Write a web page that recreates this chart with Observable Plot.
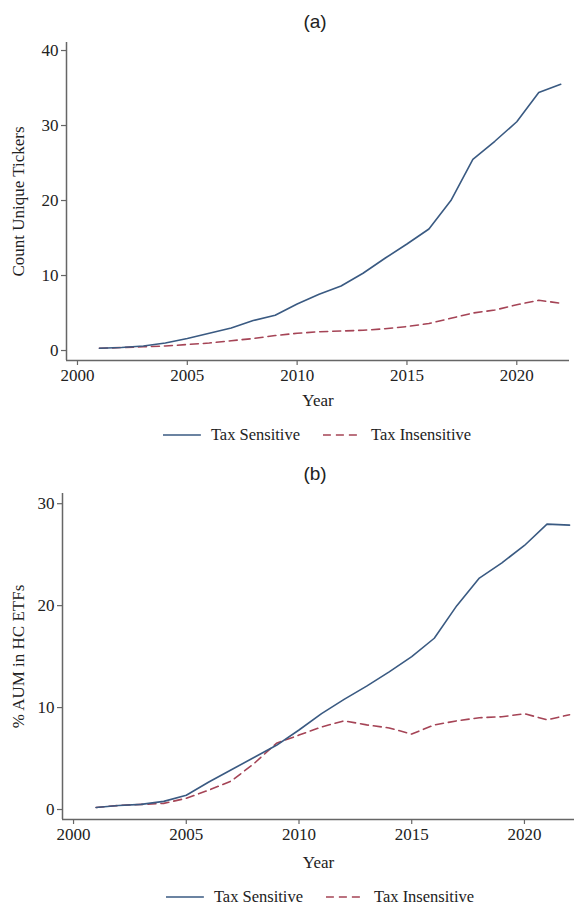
<!DOCTYPE html>
<html>
<head>
<meta charset="utf-8">
<script src="https://cdn.jsdelivr.net/npm/d3@7"></script>
<script src="https://cdn.jsdelivr.net/npm/@observablehq/plot@0.6"></script>
<style>
  html, body { margin: 0; padding: 0; background: #fff; }
  #root { position: relative; width: 575px; height: 907px; overflow: hidden; }
  .title { position: absolute; font-family: "Liberation Sans", Arial, sans-serif; font-size: 19px; color: #222; transform: translate(-50%, -50%); white-space: nowrap; }
  .panel { position: absolute; left: 0; }
  .legend { position: absolute; display: flex; align-items: center; transform: translate(-50%, -50%); font-family: "Liberation Serif", "Times New Roman", serif; font-size: 16.5px; color: #222; white-space: nowrap; }
  .legend .item { display: flex; align-items: center; }
  .legend .item + .item { margin-left: 23px; }
  .legend svg { margin-right: 10px; }
</style>
</head>
<body>
<div id="root"></div>
<script>
const years = [2001,2002,2003,2004,2005,2006,2007,2008,2009,2010,2011,2012,2013,2014,2015,2016,2017,2018,2019,2020,2021,2022];
const countSensitive   = [0.3,0.4,0.6,1.0,1.6,2.3,3.0,4.0,4.7,6.2,7.5,8.6,10.3,12.3,14.2,16.2,20.0,25.5,27.9,30.5,34.4,35.5];
const countInsensitive = [0.3,0.4,0.5,0.6,0.8,1.0,1.3,1.6,2.0,2.3,2.5,2.6,2.7,2.9,3.2,3.6,4.3,5.0,5.4,6.1,6.7,6.3];
const aumSensitive     = [0.2,0.4,0.5,0.8,1.4,2.7,3.9,5.1,6.3,7.8,9.4,10.8,12.1,13.5,15.0,16.8,20.0,22.7,24.2,25.9,28.0,27.9];
const aumInsensitive   = [0.2,0.4,0.5,0.6,1.1,1.9,2.8,4.5,6.5,7.3,8.1,8.7,8.3,8.0,7.4,8.3,8.7,9.0,9.1,9.4,8.8,9.3];
const seriesNames = ["Tax Sensitive", "Tax Insensitive"];
const xTicks = [2000, 2005, 2010, 2015, 2020];
const yTicksA = [0, 10, 20, 30, 40];
const yTicksB = [0, 10, 20, 30];
const panelTitles = ["(a)", "(b)"];
const yLabels = ["Count Unique Tickers", "% AUM in HC ETFs"];
const xLabel = "Year";

const BLUE = "#3a5a82";
const RED = "#a54456";
const AXIS = "#666";
const DASH = "8,5";
const FONT = '"Liberation Serif", "Times New Roman", serif';
const FS = 17;

function toRows(vals) { return years.map((y, i) => ({year: y, value: vals[i]})); }

function makePanel(cfg) {
  const {sens, insens, yTicks, yLabel, xDomain, yDomain, height, marginTop, marginBottom, marginLeft, marginRight, ylabDx, xlabDy} = cfg;
  return Plot.plot({
    width: 575,
    height,
    marginTop, marginBottom, marginLeft, marginRight,
    style: {fontFamily: FONT, fontSize: FS + "px", color: "#222", background: "transparent"},
    x: {domain: xDomain},
    y: {domain: yDomain},
    marks: [
      Plot.ruleX([xDomain[0]], {stroke: AXIS, strokeWidth: 1.5}),
      Plot.ruleY([yDomain[0]], {stroke: AXIS, strokeWidth: 1.5}),
      Plot.axisX({ticks: xTicks, tickFormat: d => String(d), tickSize: 5, tickPadding: 3, stroke: AXIS, strokeWidth: 1.2, label: null, fontSize: FS, fontFamily: FONT}),
      Plot.axisY({ticks: yTicks, tickFormat: d => String(d), tickSize: 5, tickPadding: 3, stroke: AXIS, strokeWidth: 1.2, label: null, fontSize: FS, fontFamily: FONT}),
      Plot.lineY(toRows(insens), {x: "year", y: "value", stroke: RED, strokeWidth: 1.6, strokeDasharray: DASH}),
      Plot.lineY(toRows(sens), {x: "year", y: "value", stroke: BLUE, strokeWidth: 1.6}),
      Plot.text([yLabel], {frameAnchor: "left", dx: ylabDx, rotate: -90, textAnchor: "middle", lineAnchor: "middle", fill: "#222", fontSize: FS, fontFamily: FONT}),
      Plot.text([xLabel], {frameAnchor: "bottom", dy: xlabDy, textAnchor: "middle", lineAnchor: "middle", fill: "#222", fontSize: FS, fontFamily: FONT})
    ]
  });
}

function legend(cx, cy) {
  const d = document.createElement("div");
  d.className = "legend";
  d.style.left = cx + "px";
  d.style.top = cy + "px";
  const colors = [BLUE, RED];
  const dashes = [null, DASH];
  seriesNames.forEach((name, i) => {
    const it = document.createElement("div");
    it.className = "item";
    const ns = "http://www.w3.org/2000/svg";
    const s = document.createElementNS(ns, "svg");
    s.setAttribute("width", 38); s.setAttribute("height", 6);
    const l = document.createElementNS(ns, "line");
    l.setAttribute("x1", 0); l.setAttribute("x2", 38); l.setAttribute("y1", 3); l.setAttribute("y2", 3);
    l.setAttribute("stroke", colors[i]); l.setAttribute("stroke-width", 1.6);
    if (dashes[i]) l.setAttribute("stroke-dasharray", dashes[i]);
    s.appendChild(l);
    it.appendChild(s);
    const t = document.createElement("span");
    t.textContent = name;
    it.appendChild(t);
    d.appendChild(it);
  });
  return d;
}

function title(text, cx, cy) {
  const d = document.createElement("div");
  d.className = "title";
  d.textContent = text;
  d.style.left = cx + "px";
  d.style.top = cy + "px";
  return d;
}

const root = document.getElementById("root");

// Panel (a)
root.appendChild(title(panelTitles[0], 315, 22));
const pa = makePanel({
  sens: countSensitive, insens: countInsensitive, yTicks: yTicksA, yLabel: yLabels[0],
  xDomain: [1999.5, 2022.4], yDomain: [-1.33, 41.07],
  height: 375, marginTop: 7, marginBottom: 50, marginLeft: 66, marginRight: 6,
  ylabDx: -48, xlabDy: 40
});
const wa = document.createElement("div"); wa.className = "panel"; wa.style.top = "35px"; wa.appendChild(pa);
root.appendChild(wa);
root.appendChild(legend(317, 435));

// Panel (b)
root.appendChild(title(panelTitles[1], 315, 474));
const pb = makePanel({
  sens: aumSensitive, insens: aumInsensitive, yTicks: yTicksB, yLabel: yLabels[1],
  xDomain: [1999.51, 2022.22], yDomain: [-0.98, 31.0],
  height: 390, marginTop: 8, marginBottom: 56, marginLeft: 62, marginRight: 1,
  ylabDx: -44, xlabDy: 43
});
const wb = document.createElement("div"); wb.className = "panel"; wb.style.top = "485px"; wb.appendChild(pb);
root.appendChild(wb);
root.appendChild(legend(320, 897));
</script>
</body>
</html>
